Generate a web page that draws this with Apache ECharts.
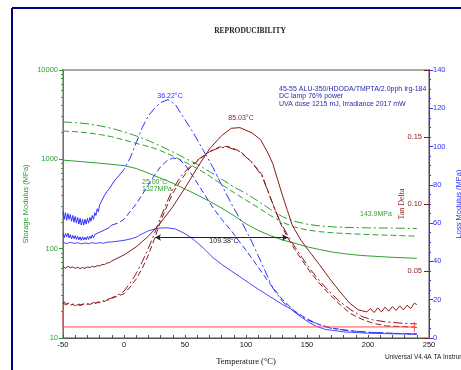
<!DOCTYPE html>
<html><head><meta charset="utf-8">
<script src="https://cdn.jsdelivr.net/npm/echarts@6/dist/echarts.min.js"></script>
<style>html,body{margin:0;padding:0;background:#fff}#c{width:461px;height:370px}</style>
</head><body><div id="c"></div>
<script>
// ---- Storage modulus (MPa, log left axis) ----
const storageDashDot = [[-50,2620],[-40,2580],[-30,2500],[-20,2380],[-10,2220],[0,2030],[10,1830],[20,1620],[30,1410],[40,1210],[50,1030],[60,880],[70,730],[80,600],[90,490],[100,415],[110,340],[120,275],[130,228],[140,202],[150,188],[160,180],[170,176],[180,173],[200,171],[220,170],[240,168]];
const storageDashed = [[-50,2075],[-40,2040],[-30,1980],[-20,1900],[-10,1790],[0,1650],[10,1510],[20,1390],[25,1327],[30,1250],[40,1090],[50,930],[60,790],[70,650],[80,525],[90,425],[100,350],[110,288],[120,235],[130,197],[140,174],[150,162],[160,155],[170,151],[180,148],[200,144],[220,141],[240,138]];
const storageSolid = [[-50,980],[-40,955],[-30,930],[-20,905],[-10,878],[0,850],[10,790],[20,700],[30,615],[40,540],[50,465],[60,400],[70,340],[80,285],[90,235],[100,190],[110,160],[120,140],[130,125],[140,115],[150,105],[160,98],[170,92],[180,88],[190,85],[200,83],[220,80],[240,78]];

// ---- Loss modulus (MPa, right outer axis) ----
const lossDashDotNoisy = [[-50,66],[-49,62],[-48,65.5],[-47,61.5],[-46,65],[-45,62],[-44,64.5],[-43,61],[-42,64],[-41,60.5],[-40,63.5],[-39,60],[-38,63],[-37,59.5],[-36,62.5],[-35,59],[-34,62],[-33,59],[-32,62],[-31,59.5],[-30,62.5],[-29,60],[-28,63],[-27,61],[-26,64],[-25,62],[-24,65.5],[-23,64],[-22,67.5],[-21,66],[-20,69.5],[-19,68.5],[-18,72],[-17,71],[-16,74.5],[-15,73.5],[-14,76.5],[-13,75.5],[-12,78],[-11,77.5],[-10,80],[-9,79.5],[-8,82],[-7,81.5],[-6,83.5],[-5,83.5],[-4,85]];
const lossDashDot = [[-4,85],[0,88],[5,94],[10,102],[15,110],[20,116],[25,120],[30,123],[36,124.5],[42,122],[50,114],[57,107],[65,98],[73,89],[80,80],[89,69],[97,60],[105,50],[110,43],[115,36],[122,26],[130,19],[140,13.5],[150,9.5],[160,7],[170,5],[185,3.8],[200,3],[220,2.4],[240,2]];
const lossDashedNoisy = [[-50,54.5],[-49,52.5],[-48,54.5],[-47,52.8],[-46,54.8],[-45,52.3],[-44,54],[-43,51.8],[-42,53.6],[-41,51.9],[-40,53.5],[-39,51.5],[-38,53.2],[-37,51.3],[-36,52.8],[-35,51],[-34,52.9],[-33,51.2],[-32,52.6],[-31,51.3],[-30,53],[-29,51.5],[-28,53.2],[-27,52],[-26,53.8],[-25,52.4],[-24,54],[-23,53],[-22,54.7],[-21,53.8],[-20,55.2],[-19,54.3],[-18,55.8],[-17,55],[-16,56.5],[-15,55.8],[-14,57],[-13,56.8],[-12,57.8],[-11,57.8],[-10,59]];
const lossDashed = [[-10,59],[-5,60],[0,62],[5,66],[10,70],[15,75],[20,80],[25,85],[30,89.5],[35,92.5],[40,94],[45,93.5],[50,90.5],[57,84],[65,76],[73,68],[80,62],[88,56],[95,50],[101,45],[110,37],[120,28],[130,20],[140,14],[150,10],[160,7],[170,5.2],[185,3.8],[200,3],[220,2.5],[240,2.1]];
const lossSolid = [[-50,50],[-47,49.3],[-44,50],[-41,49.4],[-38,49.8],[-35,49.2],[-32,49.7],[-29,49.3],[-26,49.8],[-23,49.4],[-20,49.8],[-17,49.5],[-14,50],[-10,50.2],[-5,50.6],[0,51],[5,51.7],[10,52.6],[13,53.8],[20,56],[27,57.3],[35,57.6],[42,57],[50,54.5],[57,51.5],[65,47],[73,42],[80,38.5],[88,35],[95,32],[103,28.5],[110,25.5],[120,21.5],[130,17.5],[136,15.5],[145,11],[152,8],[158,6],[165,4.5],[180,3.2],[200,2.5],[220,2.2],[240,2]];

// ---- Tan delta (right inner axis) ----
const tanSolid = [[-50,0.0535],[-48,0.052],[-46,0.0535],[-44,0.0525],[-42,0.053],[-40,0.052],[-38,0.0528],[-36,0.0518],[-34,0.0526],[-32,0.052],[-30,0.053],[-28,0.0525],[-26,0.0535],[-24,0.053],[-22,0.054],[-20,0.0538],[-18,0.0548],[-16,0.0548],[-14,0.056],[-12,0.0562],[-10,0.0575],[0,0.062],[10,0.068],[20,0.076],[30,0.086],[40,0.098],[50,0.112],[60,0.127],[70,0.141],[80,0.151],[88,0.1565],[95,0.157],[105,0.153],[112,0.148],[118,0.138],[122,0.13],[126,0.118],[130,0.106],[134,0.095],[138,0.084],[145,0.073],[152,0.0645],[160,0.055],[168,0.045],[177,0.0345],[185,0.026],[192,0.021],[199,0.0195],[202,0.022],[205,0.019],[208,0.0225],[211,0.0195],[214,0.023],[217,0.02],[220,0.0235],[223,0.0205],[226,0.024],[229,0.021],[232,0.0245],[235,0.022],[238,0.026],[240,0.025]];
const tanDashed = [[-50,0.0262],[-48,0.0248],[-46,0.0258],[-44,0.0245],[-42,0.0252],[-40,0.024],[-38,0.0248],[-36,0.0242],[-34,0.0252],[-32,0.0245],[-30,0.0255],[-28,0.025],[-26,0.026],[-24,0.0256],[-22,0.0266],[-20,0.0262],[-18,0.0272],[-16,0.0272],[-14,0.0283],[-12,0.0285],[-10,0.0296],[-6,0.031],[0,0.033],[5,0.038],[10,0.044],[15,0.052],[20,0.062],[25,0.074],[30,0.087],[35,0.098],[40,0.108],[46,0.117],[54,0.127],[62,0.1335],[70,0.139],[78,0.1425],[85,0.143],[95,0.1395],[105,0.131],[113,0.122],[122,0.1],[128,0.086],[134,0.075],[140,0.066],[146,0.058],[152,0.05],[160,0.041],[168,0.033],[177,0.025],[186,0.018],[195,0.014],[204,0.011],[215,0.009],[228,0.0085],[240,0.008]];
const tanDashDot = [[-50,0.0255],[-49,0.027],[-47,0.025],[-45,0.0262],[-43,0.0248],[-41,0.0255],[-39,0.0244],[-37,0.0253],[-35,0.0245],[-33,0.0256],[-31,0.0248],[-29,0.0258],[-27,0.0254],[-25,0.0265],[-23,0.026],[-21,0.027],[-19,0.0268],[-17,0.0278],[-15,0.028],[-13,0.029],[-11,0.0295],[-9,0.0305],[-7,0.0312],[-5,0.0322],[-3,0.033],[0,0.035],[5,0.041],[10,0.048],[15,0.057],[20,0.067],[25,0.078],[30,0.09],[35,0.101],[40,0.111],[46,0.12],[54,0.128],[62,0.134],[70,0.139],[78,0.142],[85,0.1425],[95,0.139],[105,0.131],[113,0.121],[122,0.1],[128,0.087],[134,0.077],[140,0.068],[146,0.06],[152,0.052],[160,0.043],[168,0.035],[177,0.027],[186,0.021],[195,0.016],[204,0.0135],[215,0.012],[228,0.011],[240,0.0105]];
const redBracket = [[-50,0.021],[-50,0.00825],[238,0.00825]];
const redBracketEnd = [[238,0.0118],[238,0.0048]];
const widthArrowSpan = [25.4, 134.4];
const widthArrowLevel = 0.075;

// ---- axes ----
const tempRange = [-50, 250];
const storageRange = [10, 10000];
const tanRange = [0, 0.2];
const lossRange = [0, 140];

const GREEN = '#2f9e2f', BLUE = '#3030ff', DRED = '#8b1a1a', RED = '#ff4a4a';
const DASHDOT = [9,3,2,3], DASHED = [6,3];
const SANS = '"Liberation Sans", Arial, sans-serif';
const SERIF = '"Liberation Serif", "Times New Roman", serif';

function line(data, color, type, yi, w) {
  return {type:'line', data, yAxisIndex:yi, showSymbol:false, symbol:'none', silent:true,
    lineStyle:{color, width:w||1, type}, z:3};
}

const chart = echarts.init(document.getElementById('c'), null, {renderer:'canvas'});
chart.setOption({
  animation:false,
  backgroundColor:'#fff',
  grid:{left:63, right:32, top:70, bottom:32, show:true, borderColor:'#a8a8a8', borderWidth:2,
    containLabel:false, outerBoundsMode:'none'},
  xAxis:{type:'value', min:tempRange[0], max:tempRange[1], interval:50,
    name:'Temperature (°C)', nameLocation:'middle', nameGap:19, nameMoveOverlap:false,
    nameTextStyle:{fontFamily:SERIF, fontSize:8.5, color:'#111'},
    axisLine:{onZero:false, lineStyle:{color:'#555', width:1}},
    axisTick:{inside:true, length:3, lineStyle:{color:'#555'}},
    minorTick:{show:true, splitNumber:5, length:3, lineStyle:{color:'#555'}},
    axisLabel:{fontFamily:SANS, fontSize:7.5, color:'#111', margin:3},
    splitLine:{show:false}},
  yAxis:[
    {type:'log', logBase:10, min:storageRange[0], max:storageRange[1], position:'left', offset:0,
      name:'Storage Modulus (MPa)', nameLocation:'middle', nameGap:33, nameRotate:90, nameMoveOverlap:false,
      nameTextStyle:{fontFamily:SANS, fontSize:7.5, color:GREEN},
      axisLine:{show:true, onZero:false, lineStyle:{color:GREEN, width:1}},
      axisTick:{show:true, length:4, lineStyle:{color:GREEN}},
      minorTick:{show:true, splitNumber:9, length:2, lineStyle:{color:GREEN}},
      axisLabel:{fontFamily:SANS, fontSize:7.5, color:GREEN, margin:5, formatter:v => String(Math.round(v))},
      splitLine:{show:false}},
    {type:'value', min:tanRange[0], max:tanRange[1], interval:0.05, position:'right', offset:0,
      name:'Tan Delta', nameLocation:'middle', nameGap:-31, nameRotate:90, nameMoveOverlap:false,
      nameTextStyle:{fontFamily:SERIF, fontSize:8, color:DRED},
      axisLine:{show:false, onZero:false},
      axisTick:{show:true, inside:true, length:5, lineStyle:{color:DRED}},
      axisLabel:{inside:true, fontFamily:SANS, fontSize:7.5, color:DRED, margin:7,
        formatter:v => (v > 0.001 && v < 0.199) ? v.toFixed(2) : ''},
      splitLine:{show:false}},
    {type:'value', min:lossRange[0], max:lossRange[1], interval:20, position:'right', offset:0,
      name:'Loss Modulus (MPa)', nameLocation:'middle', nameGap:26, nameRotate:90, nameMoveOverlap:false,
      nameTextStyle:{fontFamily:SANS, fontSize:7.5, color:BLUE},
      axisLine:{show:true, onZero:false, lineStyle:{color:BLUE, width:1}},
      axisTick:{show:true, length:4, lineStyle:{color:BLUE}},
      minorTick:{show:true, splitNumber:4, length:2, lineStyle:{color:BLUE}},
      axisLabel:{fontFamily:SANS, fontSize:7.5, color:BLUE, margin:4},
      splitLine:{show:false}}
  ],
  series:[
    line(storageDashDot, GREEN, DASHDOT, 0),
    line(storageDashed, GREEN, DASHED, 0),
    line(storageSolid, GREEN, 'solid', 0),
    line(lossDashDotNoisy, BLUE, 'solid', 2),
    line(lossDashDot, BLUE, DASHDOT, 2),
    line(lossDashedNoisy, BLUE, 'solid', 2),
    line(lossDashed, BLUE, DASHED, 2),
    line(lossSolid, '#4848ff', 'solid', 2),
    line(tanSolid, DRED, 'solid', 1),
    line(tanDashDot, DRED, DASHDOT, 1),
    Object.assign(line(tanDashed, DRED, DASHED, 1), {
      markLine:{silent:true, symbol:['arrow','arrow'], symbolSize:[5,6], label:{show:false},
        lineStyle:{color:'#222', width:1, type:'solid'},
        data:[[{coord:[widthArrowSpan[0], widthArrowLevel]},{coord:[widthArrowSpan[1], widthArrowLevel]}]]}
    }),
    line(redBracket, RED, 'solid', 1),
    line(redBracketEnd, RED, 'solid', 1)
  ],
  graphic:[
    {type:'line', shape:{x1:12,y1:8,x2:461,y2:8}, style:{stroke:'#000080', lineWidth:2}, z:10},
    {type:'line', shape:{x1:12,y1:8,x2:12,y2:370}, style:{stroke:'#000080', lineWidth:2}, z:10},
    {type:'text', x:250, y:31, style:{text:'REPRODUCIBILITY', font:'bold 7.5px '+SERIF, fill:'#222', textAlign:'center', textVerticalAlign:'middle'}},
    {type:'text', x:279, y:89, style:{text:'45-55 ALU-350/HDODA/TMPTA/2.0pph Irg-184', font:'7px '+SANS, fill:'#2828b0', textAlign:'left', textVerticalAlign:'middle'}},
    {type:'text', x:279, y:96.5, style:{text:'DC lamp 76% power', font:'7px '+SANS, fill:'#2828b0', textAlign:'left', textVerticalAlign:'middle'}},
    {type:'text', x:279, y:104, style:{text:'UVA dose 1215 mJ, Irradiance 2017 mW', font:'7px '+SANS, fill:'#2828b0', textAlign:'left', textVerticalAlign:'middle'}},
    {type:'text', x:170, y:96, style:{text:'36.22°C', font:'7px '+SANS, fill:BLUE, textAlign:'center', textVerticalAlign:'middle'}},
    {type:'text', x:241, y:118, style:{text:'85.03°C', font:'7px '+SANS, fill:DRED, textAlign:'center', textVerticalAlign:'middle'}},
    {type:'text', x:142, y:182, style:{text:'25.00°C', font:'7px '+SANS, fill:GREEN, textAlign:'left', textVerticalAlign:'middle'}},
    {type:'text', x:142, y:189.5, style:{text:'1327MPa', font:'7px '+SANS, fill:GREEN, textAlign:'left', textVerticalAlign:'middle'}},
    {type:'text', x:224, y:241.5, style:{text:'109.38°C', font:'7px '+SANS, fill:'#222', textAlign:'center', textVerticalAlign:'middle'}},
    {type:'text', x:360, y:214, style:{text:'143.9MPa', font:'7px '+SANS, fill:GREEN, textAlign:'left', textVerticalAlign:'middle'}},
    {type:'text', x:385, y:357, style:{text:'Universal V4.4A TA Instruments', font:'6.5px '+SANS, fill:'#222', textAlign:'left', textVerticalAlign:'middle'}}
  ]
});
</script></body></html>
